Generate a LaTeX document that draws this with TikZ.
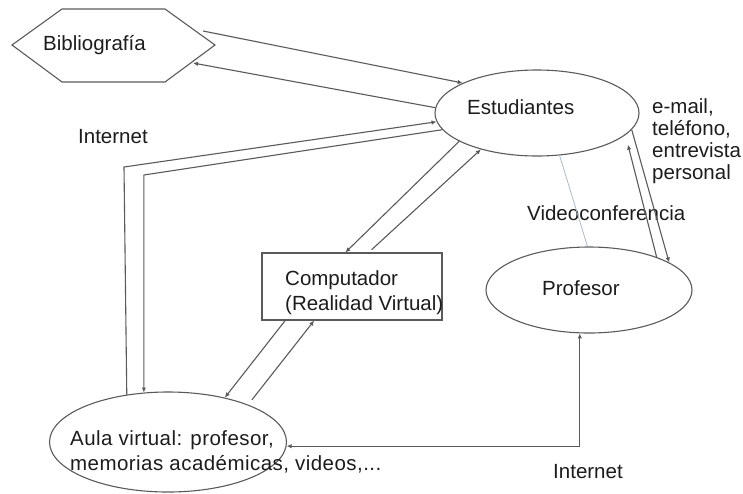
\documentclass[tikz,border=0pt]{standalone}
\usepackage{fontspec}
\setmainfont{Liberation Sans}
\newfontfamily\widesans[LetterSpace=2.2]{Liberation Sans}
\usetikzlibrary{arrows.meta,shapes.geometric}
\definecolor{linegray}{HTML}{5A5A5A}
\definecolor{textdark}{HTML}{1C1C1C}
\definecolor{videoline}{HTML}{A9B9C9}
\begin{document}
\begin{tikzpicture}[x=1pt,y=-1pt,
  conn/.style={draw=linegray,line width=1.1pt},
  arr/.style={conn,-{Latex[length=5pt,width=4.5pt]}},
  bothway/.style={conn,{Latex[length=5pt,width=4.5pt]}-{Latex[length=5pt,width=4.5pt]}},
  oval/.style={ellipse,draw=linegray,line width=1.1pt,inner sep=0pt},
  box/.style={rectangle,draw=linegray,line width=1.1pt,inner sep=0pt},
  lbl/.style={font=\fontsize{20.5}{25}\selectfont,text=textdark,inner sep=0pt},
  video/.style={draw=videoline,line width=0.8pt},
]
\useasboundingbox (0,0) rectangle (743,493);

% hexagon for the bibliography
\draw[draw=linegray,line width=1.1pt] (12,45) -- (62,9) -- (165,9) -- (215,45) -- (165,82) -- (62,82) -- cycle;
\node[lbl,anchor=base west] (bib) at (43,50) {Bibliografía};
\coordinate (bibout) at (203,31);
\coordinate (bibin) at (193,63);

% main shapes
\node[oval,minimum width=204pt,minimum height=86pt] (est) at (537,113) {};
\node[lbl,anchor=base west] (esttext) at (467,114) {Estudiantes};

\node[oval,minimum width=206pt,minimum height=86pt] (prof) at (589,290) {};
\node[lbl,anchor=base west] (proftext) at (542,295) {Profesor};

\node[box,minimum width=180pt,minimum height=67pt] (comp) at (352,286.5) {};
\node[lbl,anchor=north west,align=left] (comptext) at (285,270) {Computador\\(Realidad Virtual)};

\node[oval,minimum width=237pt,minimum height=100pt] (aula) at (168,442) {};
\node[lbl,anchor=north west,align=left,font=\widesans\fontsize{20.5}{25}\selectfont] (aulatext) at (70,430) {Aula virtual: profesor,\\memorias académicas, videos,...};

% free labels
\node[lbl,anchor=base west] (inet1) at (78,143) {Internet};
\node[lbl,anchor=base west] (inet2) at (553,478) {Internet};
\node[lbl,anchor=base west] (vc) at (527,220) {Videoconferencia};
\node[lbl,anchor=north west,align=left,font=\fontsize{20.5}{22}\selectfont] (contact) at (652,98) {e-mail,\\teléfono,\\entrevista\\personal};

% bend points of the long Internet links
\coordinate (ob) at (124,167);
\coordinate (ibtop) at (0,175);
\coordinate (ib) at (aula.116 |- ibtop);

% connectors
\draw[arr] (bibout) -- (est.158);
\draw[arr] (est.177) -- (bibin);
\draw[arr] (aula.131) -- (ob) -- (est.185);
\draw[arr] (est.190) -- (ib) -- (aula.116);
\draw[arr] (est.200) -- (comp.101);
\draw[arr,shorten <=4pt] (comp.64) -- (est.213);
\draw[arr] (comp.207) -- (aula.38);
\draw[arr,shorten <=6pt] (aula.25) -- (comp.222);
\draw[bothway] (aula.-2) -| (prof.258);
\draw[arr] (est.-10) -- (prof.19);
\draw[arr,shorten >=10pt] (prof.26) -- (est.-14);
\draw[video] (est.-62) -- (prof.92);
\end{tikzpicture}
\end{document}
